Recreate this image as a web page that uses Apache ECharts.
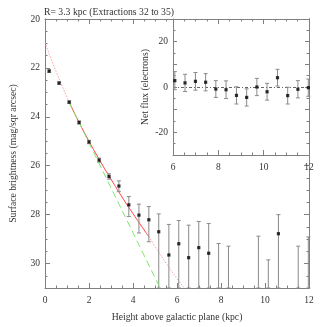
<!DOCTYPE html>
<html>
<head>
<meta charset="utf-8">
<script src="https://cdn.jsdelivr.net/npm/echarts@6/dist/echarts.min.js"></script>
<style>
  html, body { margin: 0; padding: 0; background: #fff; }
  #chart { width: 327px; height: 327px; }
</style>
</head>
<body>
<div id="chart"></div>
<script>
// surface brightness profile, main panel
var ptX = [0.19, 0.64, 1.10, 1.55, 2.00, 2.46, 2.91, 3.36, 3.81, 4.27, 4.72, 5.17, 5.63, 6.08, 6.53, 6.99, 7.44, 10.61]
var ptY = [22.13, 22.62, 23.40, 24.23, 25.03, 25.77, 26.44, 26.83, 27.60, 28.02, 28.21, 28.70, 29.65, 29.19, 29.76, 29.35, 29.58, 28.78]

// error bars (top, bottom in mag); 31 = runs off the bottom of the plot
var errX = [0.19, 0.64, 1.10, 1.55, 2.00, 2.46, 2.91, 3.36, 3.81, 4.27, 4.72, 5.17, 5.63, 6.08, 6.53, 6.99, 7.44, 7.89, 8.34, 9.70, 10.15, 10.61, 11.51, 11.97]
var errLo = [22.08, 22.57, 23.35, 24.17, 24.96, 25.69, 26.33, 26.62, 27.26, 27.57, 27.67, 27.97, 28.40, 28.24, 28.43, 28.28, 28.36, 29.18, 29.29, 28.88, 29.85, 28.00, 29.29, 28.91]
var errHi = [22.18, 22.67, 23.45, 24.30, 25.10, 25.86, 26.55, 27.06, 28.08, 28.75, 29.11, 31, 31, 31, 31, 31, 31, 31, 31, 31, 31, 31, 31, 31]

// fitted profile (red) and single exponential (green)
var redX = [0, 0.5, 1.1, 1.5, 2.0, 2.5, 3.0, 3.5, 4.0, 4.5, 4.72, 5.0, 5.5, 6.0, 6.33]
var redY = [20.96, 22.14, 23.40, 24.14, 25.0, 25.8, 26.55, 27.28, 27.96, 28.62, 28.9, 29.3, 29.98, 30.62, 31.0]
var greenX = [1.1, 5.23]
var greenY = [23.41, 31.0]

// inset: net flux
var fluxX = [6.08, 6.53, 6.99, 7.44, 7.89, 8.34, 8.80, 9.25, 9.70, 10.15, 10.61, 11.06, 11.51, 11.97]
var fluxY = [2.8, 1.8, 2.5, 2.1, -0.9, -1.2, -3.7, -4.6, 0.0, -2.1, 4.1, -3.8, -1.0, -0.3]
var fluxErr = [4.0, 3.8, 3.9, 3.8, 3.7, 3.9, 3.8, 3.8, 3.8, 3.7, 3.7, 3.7, 3.8, 3.8]

var FONT = 'Liberation Serif'
var AX = '#808080'
var TXT = '#333'

function pairs (xs, ys) {
  var out = []
  for (var i = 0; i < xs.length; i++) out.push([xs[i], ys[i]])
  return out
}

function errItem (params, api) {
  var x = api.value(0)
  var a = api.coord([x, api.value(1)])
  var b = api.coord([x, api.value(2)])
  var w = 2
  var st = { stroke: '#8a8a8a', lineWidth: 1 }
  return {
    type: 'group',
    children: [
      { type: 'line', shape: { x1: a[0], y1: a[1], x2: b[0], y2: b[1] }, style: st },
      { type: 'line', shape: { x1: a[0] - w, y1: a[1], x2: a[0] + w, y2: a[1] }, style: st },
      { type: 'line', shape: { x1: b[0] - w, y1: b[1], x2: b[0] + w, y2: b[1] }, style: st }
    ]
  }
}

var mainErr = []
for (var i = 0; i < errX.length; i++) mainErr.push([errX[i], errLo[i], errHi[i]])
var fluxErrData = []
for (var j = 0; j < fluxX.length; j++) fluxErrData.push([fluxX[j], fluxY[j] - fluxErr[j], fluxY[j] + fluxErr[j]])

var redAll = pairs(redX, redY)

function xAx (grid, pos, min, max, labels, z) {
  return {
    type: 'value', gridIndex: grid, position: pos, min: min, max: max, interval: 2, z: z,
    axisLine: { show: true, onZero: false, lineStyle: { color: AX, width: 1 } },
    axisTick: { show: true, inside: true, length: 5, lineStyle: { color: AX } },
    minorTick: { show: true, splitNumber: 4, length: 2.5, lineStyle: { color: AX } },
    axisLabel: { show: labels, color: TXT, fontFamily: FONT, fontSize: 9.5, margin: 7 },
    splitLine: { show: false }
  }
}

function yAx (grid, pos, min, max, interval, tickLen, labels, inverse, z) {
  return {
    type: 'value', gridIndex: grid, position: pos, min: min, max: max, interval: interval,
    inverse: inverse, z: z,
    axisLine: { show: true, onZero: false, lineStyle: { color: AX, width: 1 } },
    axisTick: { show: true, inside: true, length: tickLen, lineStyle: { color: AX } },
    axisLabel: labels ? { show: true, color: TXT, fontFamily: FONT, fontSize: 9.5, margin: 5 } : { show: false },
    splitLine: { show: false }
  }
}

var mainYAxis = yAx(0, 'left', 20, 31, 0.5, 2.5, true, true, 0)
mainYAxis.axisLabel.formatter = function (v) {
  return (v % 2 === 0 && v <= 30) ? String(v) : ''
}
mainYAxis.name = 'Surface brightness (mag/sqr arcsec)'
mainYAxis.nameLocation = 'middle'
mainYAxis.nameGap = 27
mainYAxis.nameTextStyle = { color: TXT, fontFamily: FONT, fontSize: 9.7 }

var mainXAxis = xAx(0, 'bottom', 0, 12, true, 0)
mainXAxis.name = 'Height above galactic plane (kpc)'
mainXAxis.nameLocation = 'middle'
mainXAxis.nameGap = 24
mainXAxis.nameTextStyle = { color: TXT, fontFamily: FONT, fontSize: 9.7 }

var insetYAxis = yAx(1, 'left', -30, 30, 10, 4, true, false, 6)
insetYAxis.axisLabel.formatter = function (v) {
  return (v % 20 === 0 && Math.abs(v) < 30) ? String(v) : ''
}
insetYAxis.minorTick = { show: true, splitNumber: 2, length: 2.5, lineStyle: { color: AX } }
insetYAxis.name = 'Net flux (electrons)'
insetYAxis.nameLocation = 'middle'
insetYAxis.nameGap = 23
insetYAxis.nameTextStyle = { color: TXT, fontFamily: FONT, fontSize: 9.7 }
var insetYRight = yAx(1, 'right', -30, 30, 10, 4, false, false, 6)
insetYRight.minorTick = { show: true, splitNumber: 2, length: 2.5, lineStyle: { color: AX } }

var chart = echarts.init(document.getElementById('chart'))
chart.setOption({
  animation: false,
  backgroundColor: '#fff',
  title: {
    text: 'R= 3.3 kpc (Extractions 32 to 35)',
    left: 39, top: 2,
    textStyle: { color: TXT, fontFamily: FONT, fontSize: 9.7, fontWeight: 'normal' }
  },
  grid: [
    { left: 36, top: 19, right: 18, bottom: 35, containLabel: false },
    { left: 173, top: 19, right: 18, bottom: 172, containLabel: false, show: true, backgroundColor: '#fff', borderWidth: 0, z: 5 }
  ],
  xAxis: [
    mainXAxis,
    xAx(0, 'top', 0, 12, false, 0),
    xAx(1, 'bottom', 6, 12, true, 6),
    xAx(1, 'top', 6, 12, false, 6)
  ],
  yAxis: [
    mainYAxis,
    yAx(0, 'left', 20, 31, 2, 5, false, true, 0),
    yAx(0, 'right', 20, 31, 0.5, 2.5, false, true, 0),
    yAx(0, 'right', 20, 31, 2, 5, false, true, 0),
    insetYAxis,
    insetYRight
  ],
  series: [
    {
      type: 'line', xAxisIndex: 0, yAxisIndex: 0, data: redAll.slice(0, 3),
      smooth: true, symbol: 'none', silent: true, z: 2,
      lineStyle: { color: '#ffa0a0', width: 1, type: [1.5, 1.5] }
    },
    {
      type: 'line', xAxisIndex: 0, yAxisIndex: 0, data: redAll.slice(2, 11),
      smooth: true, symbol: 'none', silent: true, z: 2,
      lineStyle: { color: '#ff4040', width: 1 }
    },
    {
      type: 'line', xAxisIndex: 0, yAxisIndex: 0, data: redAll.slice(10),
      smooth: true, symbol: 'none', silent: true, z: 2,
      lineStyle: { color: '#ffa0a0', width: 1, type: [1.5, 1.5] }
    },
    {
      type: 'line', xAxisIndex: 0, yAxisIndex: 0, data: pairs(greenX, greenY),
      symbol: 'none', silent: true, z: 3,
      lineStyle: { color: '#7ee66a', width: 1, type: [7, 4] }
    },
    {
      type: 'custom', xAxisIndex: 0, yAxisIndex: 0, data: mainErr,
      renderItem: errItem, encode: { x: 0, y: [1, 2] }, z: 3
    },
    {
      type: 'scatter', xAxisIndex: 0, yAxisIndex: 0, data: pairs(ptX, ptY),
      symbol: 'rect', symbolSize: 3.2, itemStyle: { color: '#000' }, z: 4
    },
    {
      type: 'custom', xAxisIndex: 2, yAxisIndex: 4, data: fluxErrData,
      renderItem: errItem, encode: { x: 0, y: [1, 2] }, z: 7
    },
    {
      type: 'scatter', xAxisIndex: 2, yAxisIndex: 4, data: pairs(fluxX, fluxY),
      symbol: 'rect', symbolSize: 3.2, itemStyle: { color: '#000' }, z: 8,
      markLine: {
        silent: true, symbol: 'none', label: { show: false },
        lineStyle: { color: '#666', width: 1, type: [3, 2, 1, 2] },
        data: [{ yAxis: 0 }]
      }
    }
  ]
})
</script>
</body>
</html>
